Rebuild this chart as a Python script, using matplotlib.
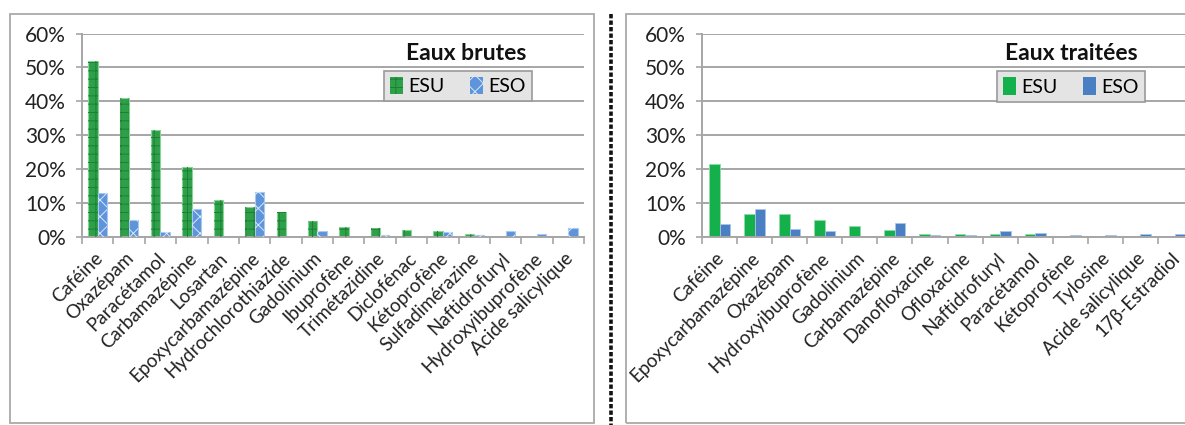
import matplotlib
matplotlib.use("Agg")
import matplotlib.pyplot as plt
import numpy as np
from matplotlib.patches import Rectangle, Patch
from matplotlib.lines import Line2D
from matplotlib.ticker import PercentFormatter, FixedLocator
from matplotlib.transforms import ScaledTranslation

plt.rcParams['font.family'] = ['Lato', 'DejaVu Sans']

# ---------------- data ----------------
brutes_labels = ["Caféine", "Oxazépam", "Paracétamol", "Carbamazépine", "Losartan",
                 "Epoxycarbamazépine", "Hydrochlorothiazide", "Gadolinium", "Ibuprofène",
                 "Trimétazidine", "Diclofénac", "Kétoprofène", "Sulfadimérazine",
                 "Naftidrofuryl", "Hydroxyibuprofène", "Acide salicylique"]
brutes_esu = [52.0, 41.0, 31.6, 20.5, 10.9, 8.7, 7.3, 4.8, 3.0, 2.8, 2.1, 1.9, 1.0, 0.0, 0.0, 0.0]
brutes_eso = [12.9, 5.0, 1.4, 8.2, 0.0, 13.3, 0.0, 1.8, 0.0, 0.5, 0.0, 1.4, 0.5, 1.8, 1.0, 2.6]

traitees_labels = ["Caféine", "Epoxycarbamazépine", "Oxazépam", "Hydroxyibuprofène",
                   "Gadolinium", "Carbamazépine", "Danofloxacine", "Ofloxacine",
                   "Naftidrofuryl", "Paracétamol", "Kétoprofène", "Tylosine",
                   "Acide salicylique", "17β-Estradiol"]
traitees_esu = [21.5, 6.7, 6.7, 5.0, 3.3, 2.1, 1.0, 1.0, 1.0, 1.0, 0.0, 0.0, 0.0, 0.0]
traitees_eso = [3.8, 8.2, 2.4, 1.7, 0.0, 4.2, 0.5, 0.5, 1.9, 1.1, 0.5, 0.5, 0.8, 0.8]

series_names = ["ESU", "ESO"]
yticks = [0, 10, 20, 30, 40, 50, 60]

# ---------------- figure ----------------
W, H = 1185, 425
fig = plt.figure(figsize=(W / 100, H / 100), dpi=100)

def fx(px):
    return px / W

def fy(py):
    return 1 - py / H

GRID = '#a6a6a6'
plt.rcParams['hatch.linewidth'] = 0.7

# panel boxes
fig.add_artist(Rectangle((fx(10), fy(423)), fx(584), (423 - 14) / H, transform=fig.transFigure,
                         fill=False, edgecolor='#a9a9a9', linewidth=1.3))
fig.add_artist(Rectangle((fx(626), fy(423)), fx(600), (423 - 14) / H, transform=fig.transFigure,
                         fill=False, edgecolor='#a9a9a9', linewidth=1.3))
# dashed divider
fig.add_artist(Line2D([fx(611), fx(611)], [fy(14), fy(425)], transform=fig.transFigure,
                      color='#111111', linewidth=2.6, linestyle=(0, (1.2, 0.6))))

ax_bottom = fy(237)
ax_height = (237 - 33.5) / H
label_shift = ScaledTranslation(-4 / 100, 0, fig.dpi_scale_trans)


def style_axes(ax, labels):
    n = len(labels)
    ax.set_xlim(-0.5, n - 0.5)
    ax.set_ylim(0, 60)
    ax.yaxis.set_major_locator(FixedLocator(yticks))
    ax.yaxis.set_major_formatter(PercentFormatter(decimals=0))
    ax.grid(axis='y', color=GRID, linewidth=1.4)
    ax.set_axisbelow(True)
    for s in ['top', 'right']:
        ax.spines[s].set_visible(False)
    for s in ['left', 'bottom']:
        ax.spines[s].set_color(GRID)
        ax.spines[s].set_linewidth(1.4)
    ax.tick_params(axis='y', length=4.5, width=1.2, color=GRID, pad=7, labelsize=15,
                   labelcolor='#222222')
    ax.set_xticks(np.arange(n))
    ax.set_xticklabels(labels, rotation=45, ha='right', va='top', rotation_mode='anchor',
                       fontsize=13.5, color='#222222')
    ax.tick_params(axis='x', which='major', length=0, pad=9)
    ax.set_xticks(np.arange(n + 1) - 0.5, minor=True)
    ax.tick_params(axis='x', which='minor', length=5, width=1.2, color=GRID, direction='out')
    for lab in ax.get_xticklabels():
        lab.set_transform(lab.get_transform() + label_shift)


# ---------------- left: Eaux brutes ----------------
axL = fig.add_axes([fx(82), ax_bottom, fx(584 - 82), ax_height])
xL = np.arange(len(brutes_labels))
bw = 0.3
esu_fc, esu_hatch, esu_edge = '#2fa04a', '#1d8035', '#86d596'
eso_fc, eso_hatch, eso_edge = '#5e94da', '#d8e7fb', '#a9c8ef'
axL.bar(xL - bw / 2, brutes_esu, bw, color=esu_fc, edgecolor=esu_edge, linewidth=0.8, zorder=2)
axL.bar(xL - bw / 2, brutes_esu, bw, facecolor='none', edgecolor=esu_hatch, hatch='++',
        linewidth=0, zorder=3)
axL.bar(xL + bw / 2, brutes_eso, bw, color=eso_fc, edgecolor=eso_edge, linewidth=0.8, zorder=2)
axL.bar(xL + bw / 2, brutes_eso, bw, facecolor='none', edgecolor=eso_hatch, hatch='xx',
        linewidth=0, zorder=3)
style_axes(axL, brutes_labels)

fig.text(fx(466), fy(53.5), "Eaux brutes", ha='center', va='center', fontsize=16.5,
         fontweight='bold', color='#111111')
hL = [Patch(facecolor=esu_fc, edgecolor=esu_hatch, hatch='++', linewidth=0),
      Patch(facecolor=eso_fc, edgecolor=eso_hatch, hatch='xx', linewidth=0)]
legL = fig.legend(hL, series_names, loc='center', bbox_to_anchor=(fx(458), fy(86)), ncol=2,
                  fontsize=14, frameon=True, fancybox=False, handlelength=0.65, handleheight=1.0,
                  handletextpad=0.3, columnspacing=1.3, borderpad=0.3, borderaxespad=0)
legL.get_frame().set_facecolor('#e4e4e4')
legL.get_frame().set_edgecolor('#9a9a9a')
legL.get_frame().set_linewidth(1.2)
legL.get_frame().set_alpha(1)

# ---------------- right: Eaux traitées ----------------
axR = fig.add_axes([fx(702), ax_bottom, fx(1193 - 702), ax_height])
xR = np.arange(len(traitees_labels))
c_esu, c_eso = '#14b04b', '#4a7fc4'
axR.bar(xR - bw / 2, traitees_esu, bw, color=c_esu, edgecolor='#8fdca8', linewidth=0.6, zorder=2)
axR.bar(xR + bw / 2, traitees_eso, bw, color=c_eso, edgecolor='#a8c4e8', linewidth=0.6, zorder=2)
style_axes(axR, traitees_labels)

fig.text(fx(1071), fy(53.5), "Eaux traitées", ha='center', va='center', fontsize=16.5,
         fontweight='bold', color='#111111')
hR = [Patch(facecolor=c_esu), Patch(facecolor=c_eso)]
legR = fig.legend(hR, series_names, loc='center', bbox_to_anchor=(fx(1071), fy(86.5)), ncol=2,
                  fontsize=14, frameon=True, fancybox=False, handlelength=0.65, handleheight=1.0,
                  handletextpad=0.3, columnspacing=1.3, borderpad=0.3, borderaxespad=0)
legR.get_frame().set_facecolor('#e4e4e4')
legR.get_frame().set_edgecolor('#9a9a9a')
legR.get_frame().set_linewidth(1.2)
legR.get_frame().set_alpha(1)

fig.savefig("out.png", dpi=100)
